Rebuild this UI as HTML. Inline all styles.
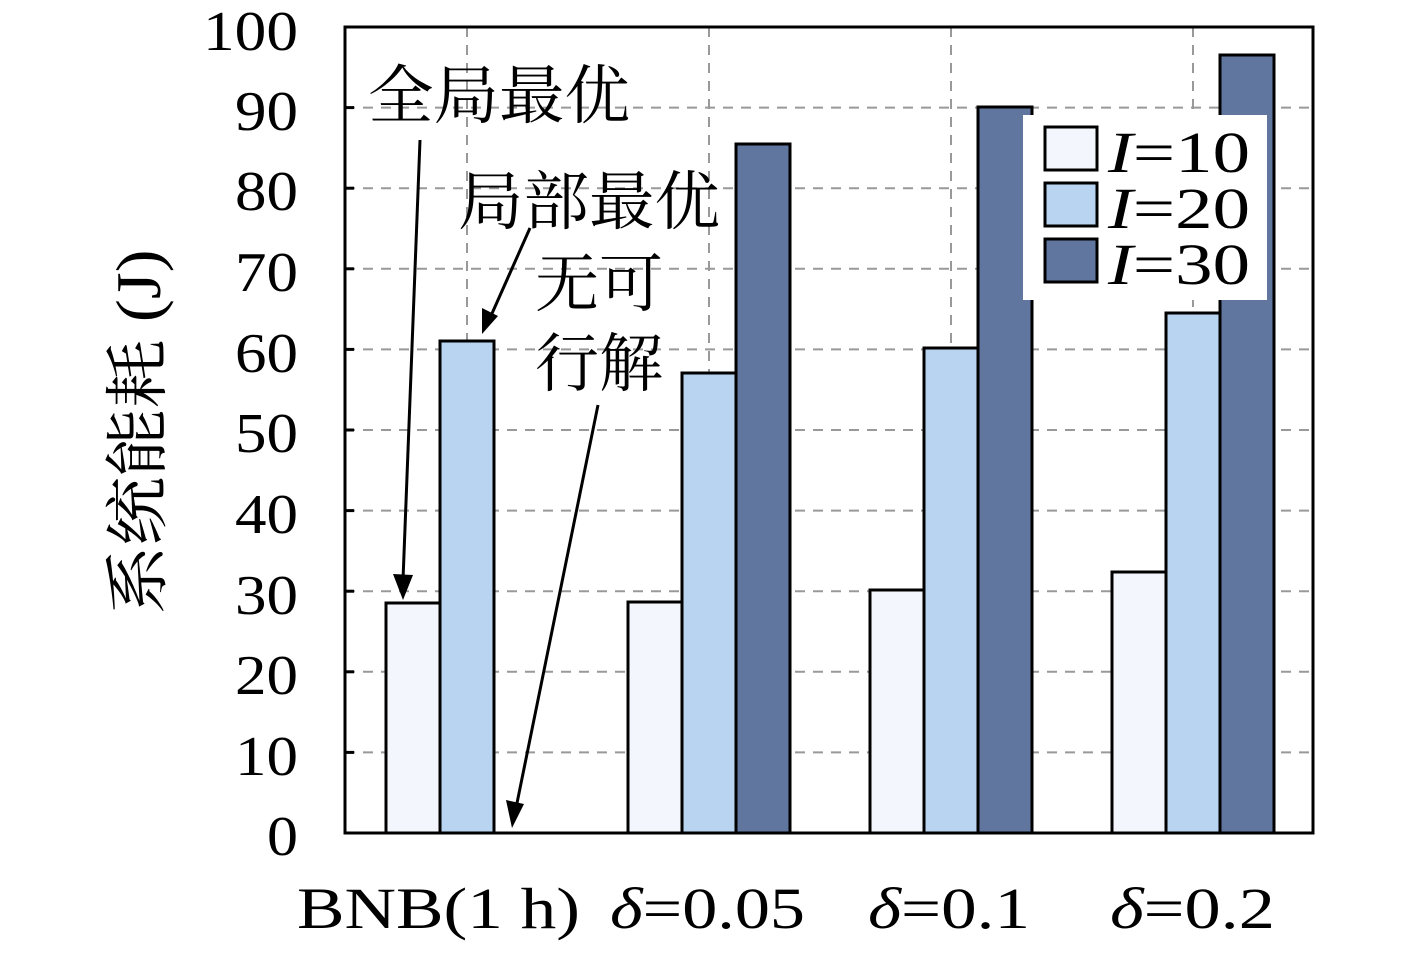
<!DOCTYPE html>
<html><head><meta charset="utf-8"><style>body{margin:0;background:#fff}</style></head><body>
<svg width="1417" height="954" xmlns="http://www.w3.org/2000/svg" font-family="'Liberation Serif','Noto Serif CJK SC',serif">
<rect width="1417" height="954" fill="#fff"/>
<g stroke="#999" stroke-width="2" stroke-dasharray="10,8">
<line x1="345" x2="1313" y1="752.4" y2="752.4"/><line x1="345" x2="1313" y1="671.8" y2="671.8"/>
<line x1="345" x2="1313" y1="591.2" y2="591.2"/><line x1="345" x2="1313" y1="510.6" y2="510.6"/>
<line x1="345" x2="1313" y1="430" y2="430"/><line x1="345" x2="1313" y1="349.4" y2="349.4"/>
<line x1="345" x2="1313" y1="268.8" y2="268.8"/><line x1="345" x2="1313" y1="188.2" y2="188.2"/>
<line x1="345" x2="1313" y1="107.6" y2="107.6"/>
<line x1="467" x2="467" y1="27" y2="833"/><line x1="709" x2="709" y1="27" y2="833"/>
<line x1="951" x2="951" y1="27" y2="833"/><line x1="1193" x2="1193" y1="27" y2="833"/>
</g>
<g stroke="#000" stroke-width="3">
<line x1="345" x2="354" y1="752.4" y2="752.4"/><line x1="345" x2="354" y1="671.8" y2="671.8"/>
<line x1="345" x2="354" y1="591.2" y2="591.2"/><line x1="345" x2="354" y1="510.6" y2="510.6"/>
<line x1="345" x2="354" y1="430" y2="430"/><line x1="345" x2="354" y1="349.4" y2="349.4"/>
<line x1="345" x2="354" y1="268.8" y2="268.8"/><line x1="345" x2="354" y1="188.2" y2="188.2"/>
<line x1="345" x2="354" y1="107.6" y2="107.6"/>
</g>
<g stroke="#000" stroke-width="3">
<rect x="386" y="603" width="54" height="230" fill="#f3f7fd"/>
<rect x="440" y="341" width="54" height="492" fill="#b9d4f1"/>
<rect x="628" y="602" width="54" height="231" fill="#f3f7fd"/>
<rect x="682" y="373" width="54" height="460" fill="#b9d4f1"/>
<rect x="736" y="144" width="54" height="689" fill="#60769e"/>
<rect x="870" y="590" width="54" height="243" fill="#f3f7fd"/>
<rect x="924" y="348" width="54" height="485" fill="#b9d4f1"/>
<rect x="978" y="107" width="54" height="726" fill="#60769e"/>
<rect x="1112" y="572" width="54" height="261" fill="#f3f7fd"/>
<rect x="1166" y="313" width="54" height="520" fill="#b9d4f1"/>
<rect x="1220" y="55" width="54" height="778" fill="#60769e"/>
</g>
<rect x="345" y="27" width="968" height="806" fill="none" stroke="#000" stroke-width="3"/>
<g font-size="56" text-anchor="end">
<text x="298" y="855" textLength="31" lengthAdjust="spacingAndGlyphs">0</text>
<text x="298" y="775" textLength="63" lengthAdjust="spacingAndGlyphs">10</text>
<text x="298" y="694" textLength="63" lengthAdjust="spacingAndGlyphs">20</text>
<text x="298" y="614" textLength="63" lengthAdjust="spacingAndGlyphs">30</text>
<text x="298" y="533" textLength="63" lengthAdjust="spacingAndGlyphs">40</text>
<text x="298" y="452" textLength="63" lengthAdjust="spacingAndGlyphs">50</text>
<text x="298" y="372" textLength="63" lengthAdjust="spacingAndGlyphs">60</text>
<text x="298" y="291" textLength="63" lengthAdjust="spacingAndGlyphs">70</text>
<text x="298" y="210" textLength="63" lengthAdjust="spacingAndGlyphs">80</text>
<text x="298" y="130" textLength="63" lengthAdjust="spacingAndGlyphs">90</text>
<text x="298" y="50" textLength="95" lengthAdjust="spacingAndGlyphs">100</text>
</g>
<g font-size="58">
<text x="297" y="928" textLength="283" lengthAdjust="spacingAndGlyphs">BNB(1 h)</text>
<text x="610" y="928" textLength="195" lengthAdjust="spacingAndGlyphs"><tspan font-style="italic">δ</tspan>=0.05</text>
<text x="868" y="928" textLength="162" lengthAdjust="spacingAndGlyphs"><tspan font-style="italic">δ</tspan>=0.1</text>
<text x="1110" y="928" textLength="165" lengthAdjust="spacingAndGlyphs"><tspan font-style="italic">δ</tspan>=0.2</text>
</g>
<text transform="translate(160,432) rotate(-90)" font-size="64" text-anchor="middle" textLength="365" lengthAdjust="spacingAndGlyphs">系统能耗 (J)</text>
<rect x="1023" y="115" width="244" height="185" fill="#fff"/>
<g stroke="#000" stroke-width="3">
<rect x="1045" y="127" width="52" height="43" fill="#f3f7fd"/>
<rect x="1045" y="183" width="52" height="43" fill="#b9d4f1"/>
<rect x="1045" y="239" width="52" height="43" fill="#60769e"/>
</g>
<g font-size="58">
<text x="1108" y="172" textLength="142" lengthAdjust="spacingAndGlyphs"><tspan font-style="italic">I</tspan>=10</text>
<text x="1108" y="228" textLength="142" lengthAdjust="spacingAndGlyphs"><tspan font-style="italic">I</tspan>=20</text>
<text x="1108" y="284" textLength="142" lengthAdjust="spacingAndGlyphs"><tspan font-style="italic">I</tspan>=30</text>
</g>
<g font-size="64">
<text x="368" y="118" textLength="262" lengthAdjust="spacingAndGlyphs">全局最优</text>
<text x="458" y="224" textLength="262" lengthAdjust="spacingAndGlyphs">局部最优</text>
<text x="535" y="306" textLength="128" lengthAdjust="spacingAndGlyphs">无可</text>
<text x="535" y="386" textLength="128" lengthAdjust="spacingAndGlyphs">行解</text>
</g>
<g stroke="#000" stroke-width="3">
<line x1="420" y1="140" x2="403" y2="580"/>
<line x1="530" y1="228" x2="490" y2="318"/>
<line x1="598" y1="405" x2="516" y2="808"/>
</g>
<g fill="#000">
<path d="M403,600 L393,574 L413,575 z"/>
<path d="M482,334 L482,308 L498,316 z"/>
<path d="M512,828 L506,800 L524,804 z"/>
</g>
</svg>
</body></html>
